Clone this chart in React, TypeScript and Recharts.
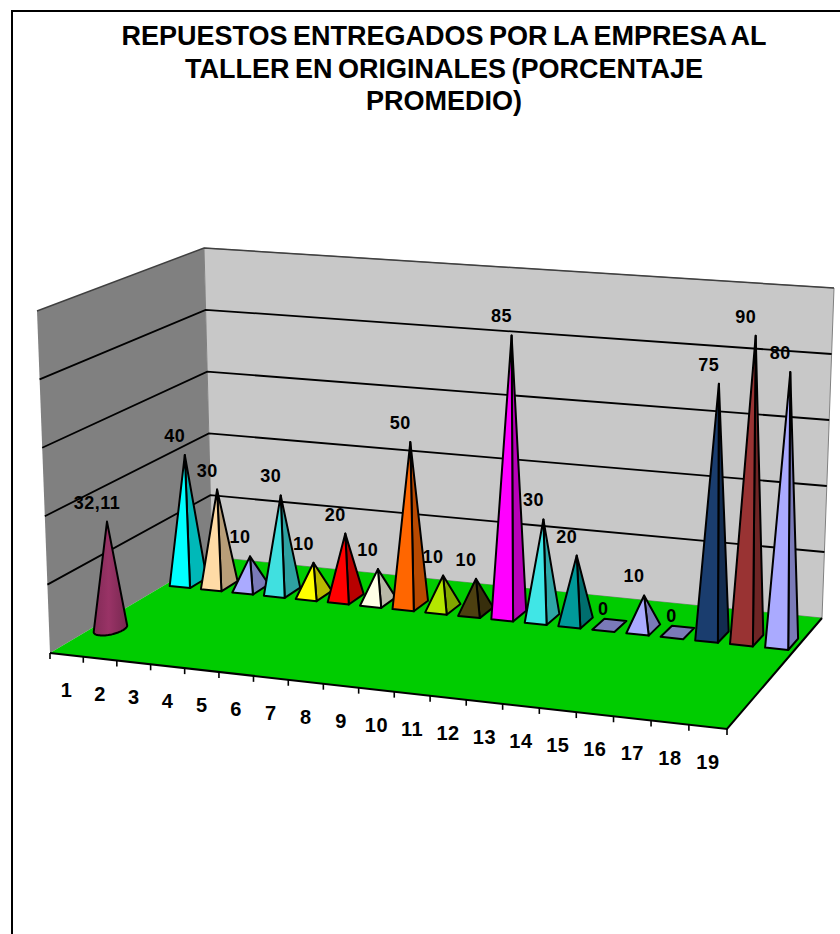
import { BarChart, Bar, XAxis, YAxis, CartesianGrid, LabelList } from 'recharts';

const CATEGORIES = ['1', '2', '3', '4', '5', '6', '7', '8', '9', '10', '11', '12', '13', '14', '15', '16', '17', '18', '19'];
const PROMEDIO = [32.11, null, null, null, null, null, null, null, null, null, null, null, null, null, null, null, null, null, null];
const TALLERES = [40, 30, 10, 30, 10, 20, 10, 50, 10, 10, 85, 30, 20, 0, 10, 0, 75, 90, 80];
const COLORS = [
  '#00ffff', '#ffdba6', '#aaaaff', '#40e0e0', '#ffff00', '#ff0000', '#ffffe6', '#ff6600', '#b4e600', '#4d4010',
  '#ff00ff', '#40e6e6', '#009999', '#aaaaff', '#aaaaff', '#aaaaff', '#1a3d6e', '#993333', '#aaaaff',
];
const CONE_COLOR = '#993366';
const Y_TICKS = [0, 20, 40, 60, 80, 100];
const TITLE_LINES = ['REPUESTOS ENTREGADOS POR LA EMPRESA AL', 'TALLER EN ORIGINALES (PORCENTAJE', 'PROMEDIO)'];

const data = CATEGORIES.map((cat, i) => ({ cat, promedio: PROMEDIO[i], talleres: TALLERES[i] }));

const WIDTH = 840;
const HEIGHT = 934;
const PLOT = { left: 50, right: 727, top: 365, bottom: 729 };
const FONT = '"Liberation Sans", Arial, sans-serif';

type Pt = [number, number];

// maps the unit square onto a quad: (0,0) p0, (1,0) p1, (1,1) p2, (0,1) p3
function quadMap(p0: Pt, p1: Pt, p2: Pt, p3: Pt) {
  const dx1 = p1[0] - p2[0];
  const dx2 = p3[0] - p2[0];
  const dy1 = p1[1] - p2[1];
  const dy2 = p3[1] - p2[1];
  const sx = p0[0] - p1[0] + p2[0] - p3[0];
  const sy = p0[1] - p1[1] + p2[1] - p3[1];
  const den = dx1 * dy2 - dx2 * dy1;
  const g = (sx * dy2 - dx2 * sy) / den;
  const h = (dx1 * sy - sx * dy1) / den;
  const a = p1[0] - p0[0] + g * p1[0];
  const b = p3[0] - p0[0] + h * p3[0];
  const d = p1[1] - p0[1] + g * p1[1];
  const e = p3[1] - p0[1] + h * p3[1];
  return (u: number, v: number): Pt => {
    const w = g * u + h * v + 1;
    return [(a * u + b * v + p0[0]) / w, (d * u + e * v + p0[1]) / w];
  };
}

const floorMap = quadMap([50, 653], [727, 729], [822, 618], [212, 557]);
const topMap = quadMap([37, 311], [736, 360], [834, 288], [204, 248]);

// u along the categories, v into the depth, h share of the value axis
function project(u: number, v: number, h: number): Pt {
  const a = floorMap(u, v);
  const b = topMap(u, v);
  return [a[0] + (b[0] - a[0]) * h, a[1] + (b[1] - a[1]) * h];
}

const uOf = (x: number) => (x - PLOT.left) / (PLOT.right - PLOT.left);
const hOf = (y: number) => (PLOT.bottom - y) / (PLOT.bottom - PLOT.top);
const toPoints = (pts: Pt[]) => pts.map((p) => `${p[0].toFixed(1)},${p[1].toFixed(1)}`).join(' ');

const FRONT_ROW = 0.25;
const BACK_ROW = 0.735;
const HALF_U = 0.0172;
const HALF_V = 0.055;

function shade(hex: string, k: number) {
  const n = parseInt(hex.slice(1), 16);
  const c = [(n >> 16) & 255, (n >> 8) & 255, n & 255].map((v) => Math.round(v * k));
  return `rgb(${c[0]},${c[1]},${c[2]})`;
}

function Pyramid(props: any) {
  const { x, y, width, index, value } = props;
  if (value == null) return null;
  const u = uOf(x + width / 2);
  const color = COLORS[index];
  const left = project(u - HALF_U, BACK_ROW - HALF_V, 0);
  const front = project(u + HALF_U, BACK_ROW - HALF_V, 0);
  const right = project(u + HALF_U, BACK_ROW + HALF_V, 0);
  const back = project(u - HALF_U, BACK_ROW + HALF_V, 0);
  const apex = project(u, BACK_ROW, hOf(y));
  const line = { stroke: '#000', strokeWidth: 2, strokeLinejoin: 'round' as const };
  if (value === 0) {
    return <polygon points={toPoints([left, front, right, back])} fill={shade(color, 0.72)} {...line} />;
  }
  return (
    <g>
      <polygon points={toPoints([front, right, apex])} fill={shade(color, 0.72)} {...line} />
      <polygon points={toPoints([left, front, apex])} fill={color} {...line} />
    </g>
  );
}

function Cone(props: any) {
  const { x, y, width, value } = props;
  if (value == null) return null;
  const u = uOf(x + width / 2);
  const apex = project(u, FRONT_ROW, hOf(y));
  const rim: Pt[] = [];
  for (let i = 0; i < 64; i++) {
    const t = (i / 64) * Math.PI * 2;
    rim.push(project(u + 0.0205 * Math.cos(t), FRONT_ROW + 0.065 * Math.sin(t), 0));
  }
  const angle = (p: Pt) => Math.atan2(p[0] - apex[0], p[1] - apex[1]);
  let lo = 0;
  let hi = 0;
  let low = 0;
  rim.forEach((p, i) => {
    if (angle(p) < angle(rim[lo])) lo = i;
    if (angle(p) > angle(rim[hi])) hi = i;
    if (p[1] > rim[low][1]) low = i;
  });
  // walk the rim between the two outline points along its near side
  const walk = (step: number) => {
    const out: Pt[] = [];
    for (let i = lo; ; i = (i + step + 64) % 64) {
      out.push(rim[i]);
      if (i === hi) break;
    }
    return out;
  };
  const forward = walk(1);
  const near = forward.includes(rim[low]) ? forward : walk(-1);
  return (
    <g>
      <defs>
        <linearGradient id="coneFill" x1="0" y1="0" x2="1" y2="0">
          <stop offset="0" stopColor={shade(CONE_COLOR, 0.85)} />
          <stop offset="0.45" stopColor={CONE_COLOR} />
          <stop offset="1" stopColor={shade(CONE_COLOR, 0.78)} />
        </linearGradient>
      </defs>
      <polygon points={toPoints([apex, ...near])} fill="url(#coneFill)" stroke="#000" strokeWidth={2} strokeLinejoin="round" />
    </g>
  );
}

function ValueLabel(props: any) {
  const { x, y, width, value, row } = props;
  if (value == null) return null;
  const apex = project(uOf(x + width / 2), row, hOf(y));
  const dx = value === 0 ? -6 : -10;
  const dy = value === 0 ? -10 : -13;
  return (
    <text x={apex[0] + dx} y={apex[1] + dy} textAnchor="middle" fontFamily={FONT} fontWeight="bold" fontSize={18} letterSpacing={0.5} fill="#000">
      {String(value).replace('.', ',')}
    </text>
  );
}

function CategoryTick(props: any) {
  const { x, index, payload } = props;
  const u = uOf(x);
  const half = 0.5 / CATEGORIES.length;
  const edge = project(u, 0, 0);
  const mark = (uu: number) => {
    const p = project(uu, 0, 0);
    return <line x1={p[0]} y1={p[1]} x2={p[0]} y2={p[1] + 6} stroke="#000" strokeWidth={1.6} />;
  };
  return (
    <g>
      {mark(u - half)}
      {index === CATEGORIES.length - 1 && mark(u + half)}
      <text x={edge[0]} y={edge[1] + 42} textAnchor="middle" fontFamily={FONT} fontWeight="bold" fontSize={20} letterSpacing={0.5} fill="#000">
        {payload.value}
      </text>
    </g>
  );
}

// the value lines run along both walls
function WallLine(props: any) {
  const h = hOf(props.y1);
  const path = [project(0, 0, h), project(0, 1, h), project(1, 1, h)];
  if (Math.abs(h) < 0.001) return <g />;
  const isTop = Math.abs(h - 1) < 0.001;
  return <polyline points={toPoints(path)} fill="none" stroke={isTop ? '#404040' : '#000'} strokeWidth={isTop ? 1.5 : 1.8} />;
}

function Room() {
  return (
    <svg width={WIDTH} height={HEIGHT} style={{ position: 'absolute', left: 0, top: 0 }}>
      <polygon points={toPoints([project(0, 0, 0), project(0, 1, 0), project(0, 1, 1), project(0, 0, 1)])} fill="#808080" />
      <polygon points={toPoints([project(0, 1, 0), project(1, 1, 0), project(1, 1, 1), project(0, 1, 1)])} fill="#c8c8c8" stroke="#808080" strokeWidth={1} />
      <polygon points={toPoints([project(0, 0, 0), project(1, 0, 0), project(1, 1, 0), project(0, 1, 0)])} fill="#00cc00" />
      <polyline points={toPoints([project(0, 0, 0), project(1, 0, 0), project(1, 1, 0)])} fill="none" stroke="#000" strokeWidth={2} />
    </svg>
  );
}

export default function App() {
  return (
    <div style={{ position: 'absolute', left: 0, top: 0, width: WIDTH, height: HEIGHT, background: '#fff', overflow: 'hidden' }}>
      <div style={{ position: 'absolute', left: 11, top: 10, right: 0, bottom: 0, borderLeft: '2px solid #000', borderTop: '2px solid #000' }} />
      <Room />
      <div style={{ position: 'absolute', left: 0, top: 0 }}>
        <BarChart
          width={WIDTH}
          height={HEIGHT}
          data={data}
          margin={{ left: PLOT.left - 1, right: WIDTH - PLOT.right, top: PLOT.top, bottom: HEIGHT - PLOT.bottom - 1 }}
        >
          <CartesianGrid vertical={false} horizontalValues={Y_TICKS} horizontal={(p: any) => <WallLine key={p.key} {...p} />} />
          <XAxis xAxisId="back" dataKey="cat" height={1} interval={0} axisLine={false} tickLine={false} tick={CategoryTick} />
          <XAxis xAxisId="front" dataKey="cat" hide />
          <YAxis width={1} domain={[0, 100]} ticks={Y_TICKS} interval={0} axisLine={false} tickLine={false} tick={() => <g />} />
          <Bar xAxisId="back" dataKey="talleres" shape={Pyramid} isAnimationActive={false}>
            <LabelList dataKey="talleres" content={(p: any) => <ValueLabel {...p} row={BACK_ROW} />} />
          </Bar>
          <Bar xAxisId="front" dataKey="promedio" shape={Cone} isAnimationActive={false}>
            <LabelList dataKey="promedio" content={(p: any) => <ValueLabel {...p} row={FRONT_ROW} />} />
          </Bar>
        </BarChart>
      </div>
      <div
        style={{
          position: 'absolute',
          left: 99,
          width: 690,
          top: 20,
          textAlign: 'center',
          fontFamily: FONT,
          fontWeight: 'bold',
          fontSize: 27,
          wordSpacing: -2,
          lineHeight: '32.5px',
          color: '#000',
        }}
      >
        {TITLE_LINES.map((line) => (
          <div key={line} style={{ whiteSpace: 'nowrap' }}>{line}</div>
        ))}
      </div>
    </div>
  );
}
